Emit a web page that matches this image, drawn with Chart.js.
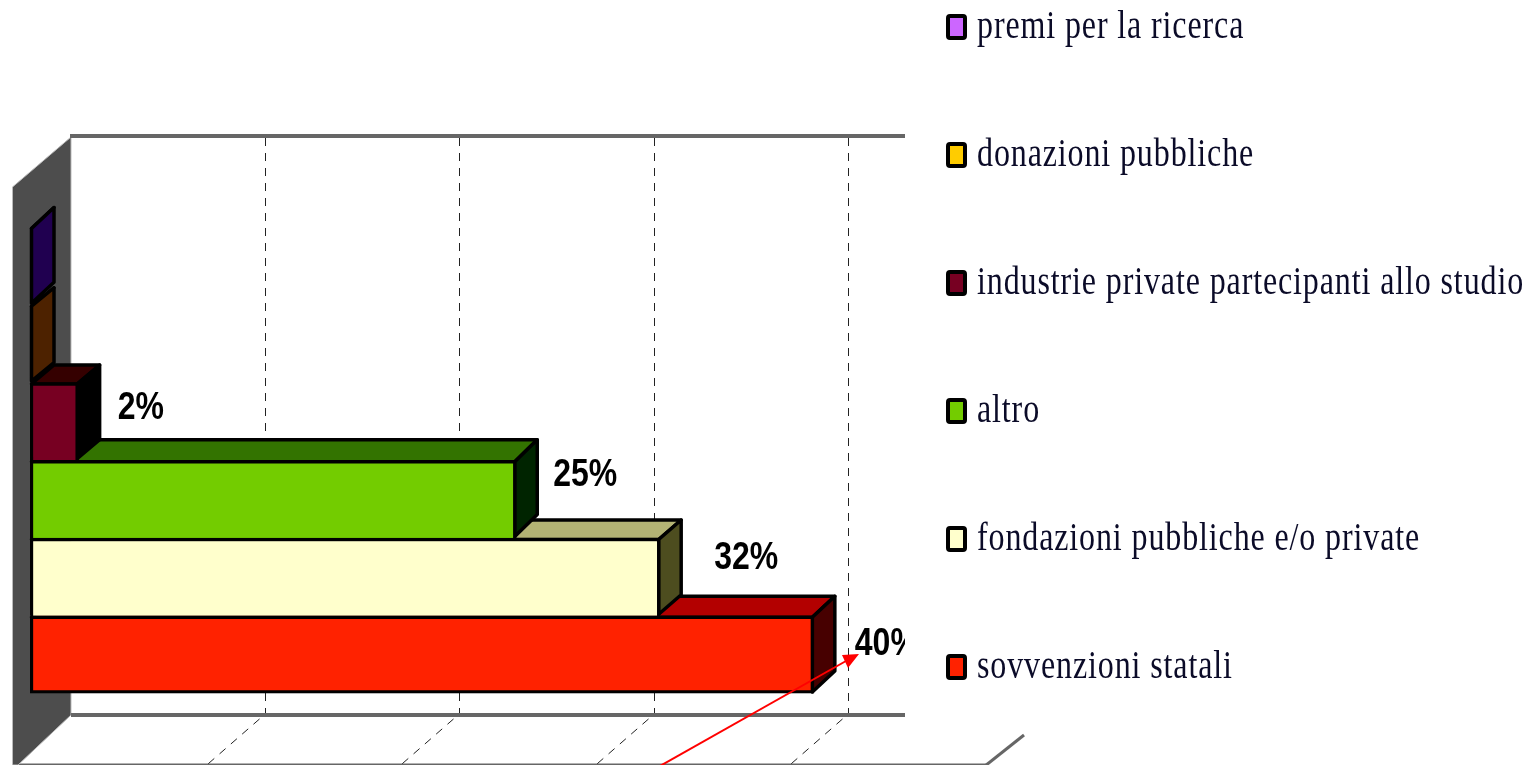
<!DOCTYPE html>
<html><head><meta charset="utf-8">
<script src="https://cdn.jsdelivr.net/npm/chart.js@4/dist/chart.umd.min.js"></script>
<style>html,body{margin:0;padding:0;background:#fff;overflow:hidden}canvas{display:block}</style>
</head><body><canvas id="c" width="1529" height="765"></canvas>
<script>
const categories = ["premi per la ricerca","donazioni pubbliche","industrie private partecipanti allo studio","altro","fondazioni pubbliche e/o private","sovvenzioni statali"];
const values = [0,0,2.5,25.0,32.4,40.3];
const valueLabels = ["","","2%","25%","32%","40%"];
const frontColors = ["#cc66ff","#ffcc00","#770022","#73cc00","#ffffcc","#ff2200"];
const topColors = ["#200050","#4d2200","#350000","#337300","#b3b374","#b30000"];
const sideColors = ["#200050","#4d2200","#000000","#002400","#4d4d1f","#470000"];
const labelShiftX = [0,0,39,37,54,41];
const labelShiftY = [0,0,-16,-27,-22,-14];
const depthY = [21,18.5,19,22,19.5,21];

const DX = 22.5, WALL_X = 40;
function poly(ctx, pts){ctx.beginPath();pts.forEach((p,i)=>i?ctx.lineTo(p[0],p[1]):ctx.moveTo(p[0],p[1]));ctx.closePath();}

const scene = {
  id:'scene',
  beforeDatasetsDraw(chart){
    const ctx = chart.ctx, x = chart.scales.x, meta = chart.getDatasetMeta(0);
    const a = chart.chartArea, backX = a.left+WALL_X+1, topY = 136, floorY = 715, clipR = 905;
    ctx.save();
    // floor outline
    ctx.strokeStyle='#666'; ctx.lineWidth=2;
    ctx.beginPath();ctx.moveTo(18,764.5);ctx.lineTo(987,764.5);ctx.stroke();
    ctx.lineWidth=3;ctx.beginPath();ctx.moveTo(985,766);ctx.lineTo(1024,735);ctx.stroke();
    // side wall
    ctx.fillStyle='#4d4d4d';ctx.strokeStyle='#bbb';ctx.lineWidth=1;
    poly(ctx,[[12.5,187],[backX,137],[backX,715],[18,765],[12.5,765]]);ctx.fill();ctx.stroke();
    // back wall lines
    ctx.strokeStyle='#666';ctx.lineWidth=4;
    ctx.beginPath();ctx.moveTo(backX-1,topY);ctx.lineTo(clipR,topY);ctx.stroke();
    ctx.beginPath();ctx.moveTo(backX,floorY);ctx.lineTo(clipR,floorY);ctx.stroke();
    // grid lines from the value scale
    ctx.strokeStyle='#222';ctx.lineWidth=1;ctx.setLineDash([8,7]);
    x.ticks.forEach(t=>{
      if(t.value===0) return;
      const p=Math.round(x.getPixelForValue(t.value))+WALL_X+0.5;
      if(p>clipR) return;
      ctx.beginPath();ctx.moveTo(p,138);ctx.lineTo(p,floorY-2);ctx.stroke();
      ctx.beginPath();ctx.moveTo(p-6,floorY+4);ctx.lineTo(p-61,floorY+52);ctx.stroke();
    });
    ctx.setLineDash([]);
    // bar depth faces, nearest (bottom) bar first
    ctx.strokeStyle='#000';ctx.lineWidth=3.5;ctx.lineJoin='round';
    for(let i=values.length-1;i>=0;i--){
      const el=meta.data[i], l=el.base+1.5, r=Math.max(el.x-1.5,l), t=el.y-el.height/2+1.5, b=el.y+el.height/2-1.5, d=depthY[i];
      ctx.fillStyle=topColors[i];
      poly(ctx,[[l,t],[l+DX,t-d],[r+DX,t-d],[r,t]]);ctx.fill();ctx.stroke();
      ctx.fillStyle=sideColors[i];
      poly(ctx,[[r,t],[r+DX,t-d],[r+DX,b-d],[r,b]]);ctx.fill();ctx.stroke();
    }
    ctx.restore();
  },
  afterDatasetsDraw(chart){
    const ctx = chart.ctx, meta = chart.getDatasetMeta(0);
    ctx.save();
    // value labels, clipped at the plot edge
    ctx.save();ctx.beginPath();ctx.rect(0,0,905,765);ctx.clip();
    ctx.fillStyle='#000';ctx.font='bold 39px "Liberation Sans"';ctx.textBaseline='alphabetic';
    values.forEach((v,i)=>{
      if(!valueLabels[i]) return;
      const el=meta.data[i];
      ctx.save();
      ctx.translate(el.x+labelShiftX[i], el.y+labelShiftY[i]+14);
      ctx.scale(0.82,1);
      ctx.fillText(valueLabels[i],0,0);
      ctx.restore();
    });
    ctx.restore();
    // arrow
    ctx.strokeStyle='#f00';ctx.fillStyle='#f00';ctx.lineWidth=2;
    ctx.beginPath();ctx.moveTo(660,766);ctx.lineTo(846,661);ctx.stroke();
    poly(ctx,[[859,654],[842,655],[848,668]]);ctx.fill();
    // legend
    categories.forEach((c,i)=>{
      const cy=27+i*128;
      ctx.fillStyle=frontColors[i];ctx.strokeStyle='#000';ctx.lineWidth=4;
      ctx.beginPath();ctx.roundRect(948,cy-11,17,22,2);ctx.fill();ctx.stroke();
      ctx.save();
      ctx.translate(977,cy+11);ctx.scale(0.8,1);
      ctx.fillStyle='#0b0b28';ctx.font='40px "Liberation Serif"';ctx.letterSpacing='1.1px';
      ctx.fillText(c,0,0);
      ctx.restore();
    });
    ctx.restore();
  }
};

new Chart(document.getElementById('c'),{
  type:'bar',
  data:{labels:categories,datasets:[{
    data:values,
    backgroundColor:frontColors,
    borderColor:'#000',
    borderWidth:ctx=>({top:3.5,left:3.5,right:3.5,bottom:ctx.dataIndex===values.length-1?3.5:0}),
    borderSkipped:false,
    barPercentage:1,categoryPercentage:1
  }]},
  options:{
    indexAxis:'y',responsive:false,animation:false,
    layout:{padding:{left:30,right:623.75,top:227,bottom:71.5}},
    scales:{
      x:{display:false,min:0,max:45,ticks:{stepSize:10},grid:{display:false}},
      y:{display:false,grid:{display:false}}
    },
    plugins:{legend:{display:false},tooltip:{enabled:false},title:{display:false}}
  },
  plugins:[scene,{id:'bg',beforeDraw(ch){const c=ch.ctx;c.save();c.fillStyle='#fff';c.fillRect(0,0,ch.width,ch.height);c.restore();}}]
});
</script></body></html>
